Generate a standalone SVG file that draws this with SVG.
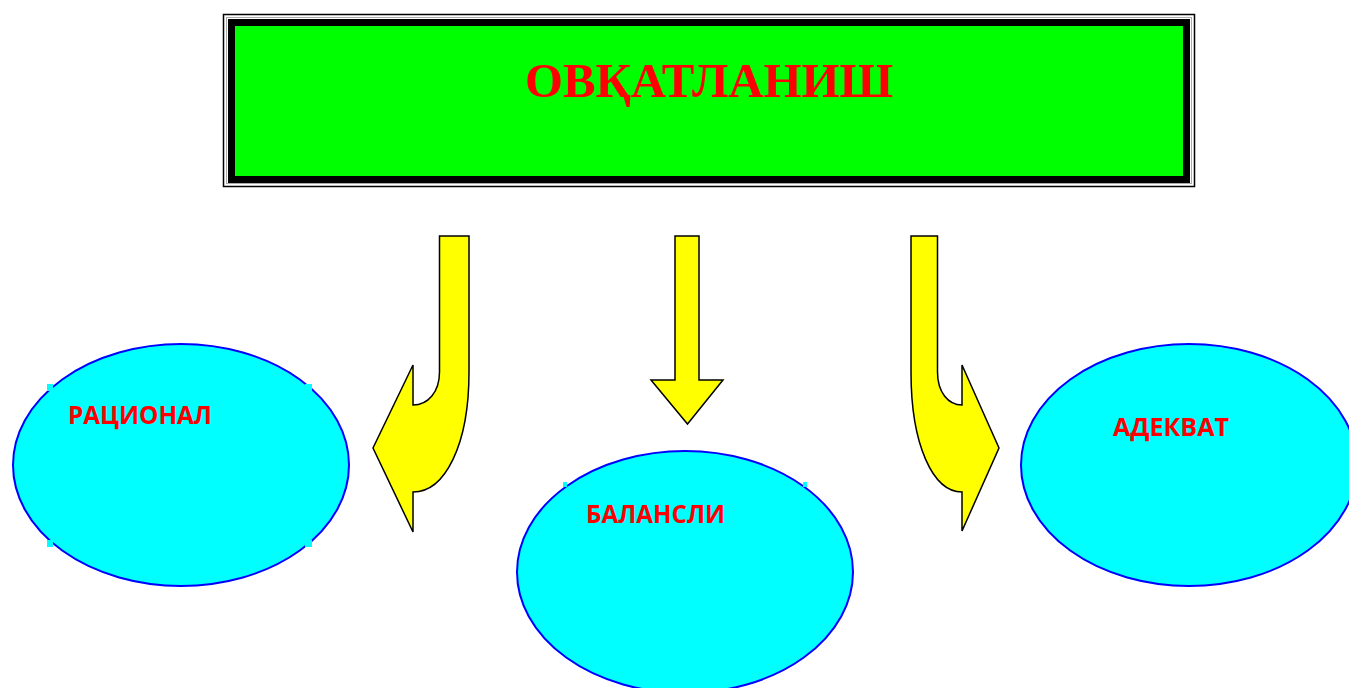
<svg xmlns="http://www.w3.org/2000/svg" width="1349" height="688" viewBox="0 0 1349 688">
<style>
.arrow{fill:#FFFF00;stroke:#000;stroke-width:1.5;stroke-linejoin:miter}
.ell{fill:#00FFFF;stroke:#0000FF;stroke-width:2}
.lbl{font-family:"Open Sans","Liberation Sans",sans-serif;font-weight:700;font-size:25px;fill:#FF0000}
.title{font-family:"Liberation Serif","Times New Roman",serif;font-weight:700;font-size:48px;fill:#FF0000}
.handle{fill:#00FFFF}
</style>
<rect width="1349" height="688" fill="#fff"/>
<g id="title">
  <rect x="223.5" y="14.5" width="971" height="172" fill="none" stroke="#000" stroke-width="1.5"/>
  <rect x="226.5" y="17.5" width="965" height="166" fill="none" stroke="#aaa" stroke-width="1"/>
  <rect x="231.5" y="22.5" width="955" height="157" fill="#00FF00" stroke="#000" stroke-width="7"/>
  <text class="title" x="709" y="97" text-anchor="middle" textLength="368" lengthAdjust="spacingAndGlyphs">ОВҚАТЛАНИШ</text>
</g>
<g id="connectors">
  <path class="arrow" d="M439.5,236 L469,236 L469,372 C469,445 445,492 413,492 L413,532 L373,448 L413,365 L413,405 C428,405 439.5,392 439.5,372 Z"/>
  <path class="arrow" d="M675,236 L699,236 L699,380 L723,380 L687.5,424 L651,380 L675,380 Z"/>
  <path class="arrow" d="M937.5,236 L911,236 L911,372 C911,445 933,492 962,492 L962,531 L999,448 L962,365 L962,405 C948,405 937.5,392 937.5,372 Z"/>
</g>
<g id="node-racional">
  <ellipse class="ell" cx="181" cy="465" rx="168" ry="121"/>
  <rect class="handle" x="47" y="384" width="6" height="7"/>
  <rect class="handle" x="47" y="540" width="6" height="7"/>
  <rect class="handle" x="305" y="384" width="7" height="7"/>
  <rect class="handle" x="305" y="540" width="7" height="7"/>
  <text class="lbl" x="68" y="424" textLength="144" lengthAdjust="spacingAndGlyphs">РАЦИОНАЛ</text>
</g>
<g id="node-balansli">
  <ellipse class="ell" cx="685" cy="572" rx="168" ry="121"/>
  <rect class="handle" x="563" y="482" width="4" height="5"/>
  <rect class="handle" x="803" y="482" width="4" height="5"/>
  <text class="lbl" x="586" y="523" textLength="139" lengthAdjust="spacingAndGlyphs">БАЛАНСЛИ</text>
</g>
<g id="node-adekvat">
  <ellipse class="ell" cx="1189" cy="465" rx="168" ry="121"/>
  <text class="lbl" x="1113" y="436" textLength="116" lengthAdjust="spacingAndGlyphs">АДЕКВАТ</text>
</g>
</svg>
